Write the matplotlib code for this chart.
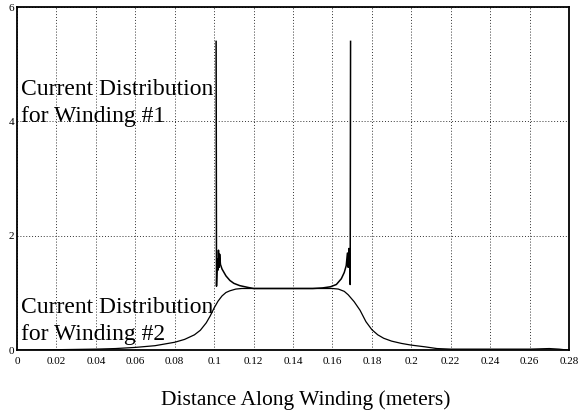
import matplotlib
matplotlib.use("Agg")
import matplotlib.pyplot as plt

plt.rcParams["font.family"] = ["Liberation Serif", "DejaVu Serif"]

# winding #1: spike at each end, flat plateau in between
w1_x = [0.1010, 0.1012, 0.1016, 0.1019, 0.1022, 0.1025, 0.1028, 0.1032, 0.104,
        0.106, 0.108, 0.110, 0.113, 0.117, 0.120, 0.150, 0.155, 0.159, 0.162,
        0.1645, 0.1660, 0.1670, 0.1676, 0.1680, 0.1684, 0.1688, 0.1690, 0.1692]
w1_y = [5.40, 1.12, 1.60, 1.40, 1.75, 1.45, 1.68, 1.50, 1.42,
        1.30, 1.22, 1.17, 1.13, 1.10, 1.08, 1.08, 1.09, 1.11, 1.15,
        1.25, 1.36, 1.48, 1.70, 1.45, 1.78, 1.50, 1.15, 5.40]

# winding #2: smooth trapezoid-like distribution
w2_x = [0.0, 0.02, 0.04, 0.05, 0.06, 0.07, 0.08, 0.085, 0.09, 0.093, 0.096,
        0.098, 0.100, 0.102, 0.104, 0.106, 0.108, 0.111, 0.114, 0.16, 0.163,
        0.166, 0.168, 0.171, 0.174, 0.177, 0.180, 0.183, 0.186, 0.190, 0.195,
        0.200, 0.207, 0.213, 0.22, 0.24, 0.26, 0.27, 0.275, 0.28]
w2_y = [0.0, 0.01, 0.02, 0.03, 0.05, 0.08, 0.14, 0.19, 0.27, 0.35, 0.48,
        0.60, 0.74, 0.86, 0.95, 1.01, 1.04, 1.07, 1.08, 1.08, 1.07,
        1.03, 0.97, 0.85, 0.70, 0.50, 0.36, 0.27, 0.21, 0.16, 0.12,
        0.09, 0.06, 0.03, 0.02, 0.02, 0.02, 0.03, 0.02, 0.0]

x_ticks = [0, 0.02, 0.04, 0.06, 0.08, 0.1, 0.12, 0.14, 0.16, 0.18, 0.2, 0.22, 0.24, 0.26, 0.28]
y_ticks = [0, 2, 4, 6]

fig = plt.figure(figsize=(5.86, 4.16), dpi=100)
ax = fig.add_axes([0.029, 0.158, 0.942, 0.825])

ax.plot(w2_x, w2_y, color="black", lw=0.9)
ax.plot(w1_x, w1_y, color="black", lw=1.1)

ax.set_xlim(0, 0.28)
ax.set_ylim(0, 6)
ax.set_xticks(x_ticks)
ax.set_xticklabels(["%g" % t for t in x_ticks])
ax.set_yticks(y_ticks)
ax.set_yticklabels([str(t) for t in y_ticks])
ax.tick_params(axis="x", length=0, labelsize=8, pad=5)
ax.tick_params(axis="y", length=0, labelsize=8, pad=2)
ax.grid(True, color="#333333", ls=(0, (1, 2)), lw=0.7)

for s in ax.spines.values():
    s.set_linewidth(1.3)
    s.set_color("black")

ax.text(0.002, 3.99, "Current Distribution\nfor Winding #1", fontsize=17,
        linespacing=1.38, va="baseline", ha="left")
ax.text(0.002, 0.18, "Current Distribution\nfor Winding #2", fontsize=17,
        linespacing=1.38, va="baseline", ha="left")

fig.text(0.522, 0.026, "Distance Along Winding (meters)", fontsize=15.5,
         ha="center", va="baseline")

fig.savefig("out.png", dpi=100)
